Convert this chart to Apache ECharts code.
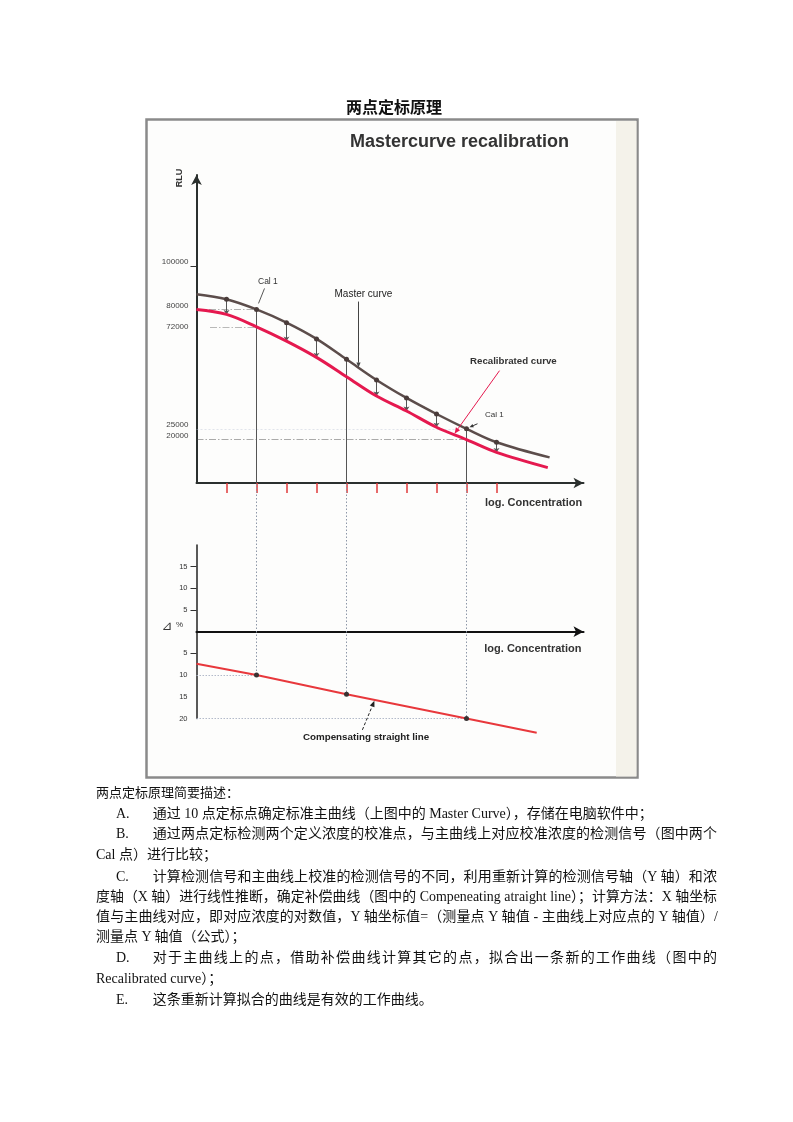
<!DOCTYPE html>
<html><head><meta charset="utf-8">
<script src="https://cdn.jsdelivr.net/npm/echarts@6/dist/echarts.min.js"></script>
<style>
html,body{margin:0;padding:0;background:#fff;}
#chart{position:absolute;left:0;top:0;width:793px;height:1122px;}
.t{position:absolute;font-family:"Liberation Serif","Noto Sans CJK SC",serif;font-size:14px;line-height:20px;height:20px;color:#111;white-space:nowrap;}
.j{text-align:justify;text-align-last:justify;}
</style></head><body>
<div id="chart"></div>
<div id="text"></div>
<script>
// ---------- data ----------
const xTicks  = [1,2,3,4,5,6,7,8,9,10];
const masterX = [0,1,2,3,4,5,6,7,8,9,10,11.77];
const masterY = [87000,84700,80000,73900,66400,57000,47500,39200,31800,25000,18800,11800];
const recalX  = [0,1,2,3,4,5,6,7,8,9,10,11.71];
const recalY  = [80000,77700,72000,65400,57900,49000,40100,33200,25700,20000,14100,7100];
const calX    = [2,5,9];
const arrowX  = [1,3,4,6,7,8,10];
const rluLabels = [100000,80000,72000,25000,20000];
const rluTicks  = [100000];
const refY    = [80000,72000,25000,20000];
const refFrom = [0,0.45,0,0];
const refTo   = [2,2,9,9];
const compX   = [0,2,5,9,11.34];
const compY   = [-7.4,-10,-14.4,-20,-23.3];
const pctLabels = [15,10,5,-5,-10,-15,-20];
const pctTicks  = [15,10,5,-5];
const compRefY  = [-10,-20];
const compRefTo = [2,9];

// ---------- chart ----------
const chart = echarts.init(document.getElementById('chart'), null, {renderer:'canvas'});
const axisCol = '#2b302e';
const refStyles = [
  {color:'#555', width:0.9, type:[7,2,1.5,2]},
  {color:'#666', width:0.9, type:[7,2,1.5,2]},
  {color:'#b7bfd2', width:0.8, type:[2,2]},
  {color:'#444', width:0.9, type:[7,2,1.5,2]}
];
const mi = x => masterY[masterX.indexOf(x)];
const ri = x => recalY[recalX.indexOf(x)];
function interp(xs, ys, x){
  for (let i=0;i<xs.length-1;i++){
    if (x>=xs[i] && x<=xs[i+1]) { const t=(x-xs[i])/(xs[i+1]-xs[i]); return ys[i]+t*(ys[i+1]-ys[i]); }
  }
  return ys[ys.length-1];
}

const option = {
  animation:false,
  backgroundColor:'transparent',
  grid:[
    {left:196.5, top:174.9, width:387, height:308.1},
    {left:196.5, top:544.9, width:387, height:173.6}
  ],
  xAxis:[
    {gridIndex:0, type:'value', min:0, max:12.9,
     axisLine:{show:true, lineStyle:{color:axisCol, width:2}, symbol:['none','arrow'], symbolSize:[8,10]},
     axisTick:{show:true, customValues:xTicks, length:10, lineStyle:{color:'#e03a3a', width:1.5}},
     axisLabel:{show:false}, splitLine:{show:false}},
    {gridIndex:1, type:'value', min:0, max:12.9,
     axisLine:{show:true, onZero:true, lineStyle:{color:'#111', width:2.2}, symbol:['none','arrow'], symbolSize:[8,10]},
     axisTick:{show:false}, axisLabel:{show:false}, splitLine:{show:false}}
  ],
  yAxis:[
    {gridIndex:0, type:'value', min:0, max:142000,
     axisLine:{show:true, lineStyle:{color:axisCol, width:2}, symbol:['none','arrow'], symbolSize:[8,10]},
     axisTick:{show:true, customValues:rluTicks, length:6, lineStyle:{color:'#333', width:1}},
     axisLabel:{show:true, customValues:rluLabels, margin:8, fontSize:8, color:'#444', fontFamily:'Liberation Sans',
       formatter: v => v===72000 ? '{m|'+v+'}' : '{u|'+v+'}',
       rich:{m:{fontSize:8, color:'#444', fontFamily:'Liberation Sans'},
             u:{fontSize:8, color:'#444', fontFamily:'Liberation Sans', padding:[0,0,8,0]}}},
     splitLine:{show:false}},
    {gridIndex:1, type:'value', min:-20, max:20,
     axisLine:{show:true, lineStyle:{color:'#222', width:1.5}},
     axisTick:{show:true, customValues:pctTicks, length:6, lineStyle:{color:'#333', width:1}},
     axisLabel:{show:true, customValues:pctLabels, margin:9, fontSize:7.5, color:'#333', fontFamily:'Liberation Sans',
       formatter: v => String(Math.abs(v))},
     splitLine:{show:false}}
  ],
  series:[
    {type:'lines', coordinateSystem:'cartesian2d', xAxisIndex:0, yAxisIndex:0, z:1, symbol:'none', silent:true,
     data: refY.map((y,i)=>({coords:[[refFrom[i],y],[refTo[i],y]], lineStyle:refStyles[i]}))},
    {type:'lines', coordinateSystem:'cartesian2d', xAxisIndex:0, yAxisIndex:0, z:2, symbol:'none', silent:true,
     lineStyle:{color:'#555', width:1, opacity:1},
     data: calX.map(x=>({coords:[[x,mi(x)],[x,0]]}))},
    {type:'lines', coordinateSystem:'cartesian2d', xAxisIndex:0, yAxisIndex:0, z:3, silent:true,
     symbol:['none','arrow'], symbolSize:4.5,
     lineStyle:{color:'#555', width:1, opacity:1},
     data: arrowX.map(x=>({coords:[[x,mi(x)],[x,ri(x)]]}))},
    {type:'line', name:'Recalibrated curve', xAxisIndex:0, yAxisIndex:0, z:4, smooth:0.35, symbol:'none',
     lineStyle:{color:'#e5194f', width:3},
     data: recalX.map((x,i)=>[x,recalY[i]])},
    {type:'line', name:'Master curve', xAxisIndex:0, yAxisIndex:0, z:5, smooth:0.35,
     symbol:'circle', symbolSize:(v,p)=> (p.dataIndex>0 && p.dataIndex<masterX.length-1) ? 5 : 0,
     itemStyle:{color:'#4a3c3a'}, lineStyle:{color:'#5c4d4b', width:2.5},
     data: masterX.map((x,i)=>[x,masterY[i]])},
    {type:'lines', coordinateSystem:'cartesian2d', xAxisIndex:1, yAxisIndex:1, z:1, symbol:'none', silent:true,
     lineStyle:{color:'#aab2c4', width:0.9, type:[1.5,1.5], opacity:1},
     data: compRefY.map((y,i)=>({coords:[[0,y],[compRefTo[i],y]]}))},
    {type:'line', name:'Compensating straight line', xAxisIndex:1, yAxisIndex:1, z:5, clip:false,
     symbol:'circle', symbolSize:(v)=> calX.includes(v[0]) ? 5 : 0,
     itemStyle:{color:'#3a3232'}, lineStyle:{color:'#e8383c', width:2},
     data: compX.map((x,i)=>[x,compY[i]])}
  ]
};
chart.setOption(option);

// ---------- annotations ----------
const p0 = (x,y)=>chart.convertToPixel({gridIndex:0},[x,y]);
const p1 = (x,y)=>chart.convertToPixel({gridIndex:1},[x,y]);
function arrowEls(x1,y1,x2,y2,color,w,dash,head){
  const ang=Math.atan2(y2-y1,x2-x1), hl=head||5, hw=hl*0.42;
  const bx=x2-hl*Math.cos(ang), by=y2-hl*Math.sin(ang);
  const nx=-Math.sin(ang)*hw, ny=Math.cos(ang)*hw;
  return [
    {type:'line', z:50, silent:true, shape:{x1:x1,y1:y1,x2:bx,y2:by}, style:{stroke:color, lineWidth:w, lineDash:dash||null}},
    {type:'polygon', z:50, silent:true, shape:{points:[[x2,y2],[bx+nx,by+ny],[bx-nx,by-ny]]}, style:{fill:color}}
  ];
}
function txt(text,x,y,opt){
  return {type:'text', z:60, silent:true, x:x, y:y, rotation:opt.rot||0,
    style:Object.assign({text:text, fill:opt.fill||'#222', fontSize:opt.size||10, fontWeight:opt.weight||'normal',
      fontFamily:opt.family||'Liberation Sans', align:opt.align||'left', verticalAlign:'middle',
      textAlign:opt.align||'left', textVerticalAlign:'middle'})};
}
const els = [];
els.push({type:'rect', z:-10, silent:true, shape:{x:146.5,y:119.5,width:491,height:658}, style:{fill:'#fdfdfc', stroke:'#8a8a8a', lineWidth:2.5}});
els.push({type:'rect', z:-9, silent:true, shape:{x:616,y:121,width:20.5,height:655.5}, style:{fill:'#f4f2ea'}});
els.push(txt('两点定标原理',394,107.3,{size:16,weight:'bold',family:'"Noto Sans CJK SC"',align:'center',fill:'#111'}));
els.push(txt('Mastercurve recalibration',350,141.7,{size:18,weight:'bold',fill:'#333'}));
els.push(txt('RLU',180,178,{size:9,weight:'bold',fill:'#333',align:'center',rot:Math.PI/2}));
els.push(txt('log. Concentration',485,503.3,{size:11,weight:'bold',fill:'#333'}));
els.push(txt('log. Concentration',484.3,649.3,{size:11,weight:'bold',fill:'#333'}));
els.push(txt('⊿',167,627,{size:13,family:'DejaVu Sans',align:'center',fill:'#333'}));
els.push(txt('%',179.5,625,{size:8,align:'center',fill:'#333'}));

// dotted verticals linking the two panels
calX.forEach(x=>{
  const a=p0(x,0), b=p1(x,interp(compX,compY,x));
  els.push({type:'line', z:1, silent:true, shape:{x1:a[0],y1:a[1]+1,x2:b[0],y2:b[1]}, style:{stroke:'#8d97a8', lineWidth:1, lineDash:[1.5,2]}});
});

// Cal 1 (first)
let c=p0(2,mi(2));
els.push({type:'line', z:50, silent:true, shape:{x1:c[0]+2,y1:c[1]-6,x2:c[0]+8,y2:c[1]-21}, style:{stroke:'#444', lineWidth:0.9}});
els.push(txt('Cal 1',c[0]+1.5,c[1]-28,{size:8.5,fill:'#333'}));
// Master curve
let m=p0(5.4,interp(masterX,masterY,5.4));
els.push(...arrowEls(m[0],m[1]-66,m[0],m[1],'#444',1,null,5));
els.push(txt('Master curve',m[0]-24,m[1]-73.5,{size:10,fill:'#222'}));
// Recalibrated curve
let r=p0(8.6,interp(recalX,recalY,8.6));
els.push(...arrowEls(r[0]+45,r[1]-64,r[0],r[1]-1,'#e5194f',1,null,6));
els.push(txt('Recalibrated curve',r[0]+15.5,r[1]-73.5,{size:9.7,weight:'bold',fill:'#333'}));
// Cal 1 (second)
let c2=p0(9,mi(9));
els.push(...arrowEls(c2[0]+11,c2[1]-5,c2[0]+3,c2[1]-1.5,'#333',1,null,4));
els.push(txt('Cal 1',c2[0]+18.5,c2[1]-14,{size:8,fill:'#333'}));
// Compensating straight line
let k=p1(5.93,interp(compX,compY,5.93));
els.push(...arrowEls(k[0]-12,k[1]+30,k[0],k[1]+1,'#222',1,[3,2],6));
els.push(txt('Compensating straight line',k[0]-71.5,k[1]+37.3,{size:9.8,weight:'bold',fill:'#222'}));

chart.setOption({graphic:{elements:els}});

// ---------- description text ----------
const lines = [
  ['', '两点定标原理简要描述：', 96, null],
  ['A.', '通过 10 点定标点确定标准主曲线（上图中的 Master Curve），存储在电脑软件中；', 152.7, null],
  ['B.', '通过两点定标检测两个定义浓度的校准点，与主曲线上对应校准浓度的检测信号（图中两个', 152.7, 717],
  ['', 'Cal 点）进行比较；', 96, null],
  ['C.', '计算检测信号和主曲线上校准的检测信号的不同，利用重新计算的检测信号轴（Y 轴）和浓', 152.7, 717],
  ['', '度轴（X 轴）进行线性推断，确定补偿曲线（图中的 Compeneating atraight line）；计算方法：X 轴坐标', 96, 717],
  ['', '值与主曲线对应，即对应浓度的对数值，Y 轴坐标值=（测量点 Y 轴值 - 主曲线上对应点的 Y 轴值）/', 96, 718],
  ['', '测量点 Y 轴值（公式）；', 96, null],
  ['D.', '对于主曲线上的点，借助补偿曲线计算其它的点，拟合出一条新的工作曲线（图中的', 152.7, 717],
  ['', 'Recalibrated curve）；', 96, null],
  ['E.', '这条重新计算拟合的曲线是有效的工作曲线。', 152.7, null]
];
const lineCY = [793.3,814.3,834.3,855,876.7,896.7,916.7,936.7,958.3,979,1000];
const host = document.getElementById('text');
lines.forEach((L,i)=>{
  const top = lineCY[i]-10;
  if (L[0]) {
    const d=document.createElement('div'); d.className='t'; d.style.left='116px'; d.style.top=top+'px'; d.textContent=L[0]; host.appendChild(d);
  }
  const d=document.createElement('div'); d.className='t'+(L[3]?' j':'');
  d.style.left=L[2]+'px'; d.style.top=top+'px';
  if (i===0) d.style.fontSize='13px';
  if (L[3]) d.style.width=(L[3]-L[2])+'px';
  d.textContent=L[1]; host.appendChild(d);
  if (L[3]) {
    let fs=14;
    while (d.scrollWidth > d.clientWidth && fs > 12) { fs -= 0.1; d.style.fontSize = fs.toFixed(1)+'px'; }
  }
});
</script>
</body></html>
